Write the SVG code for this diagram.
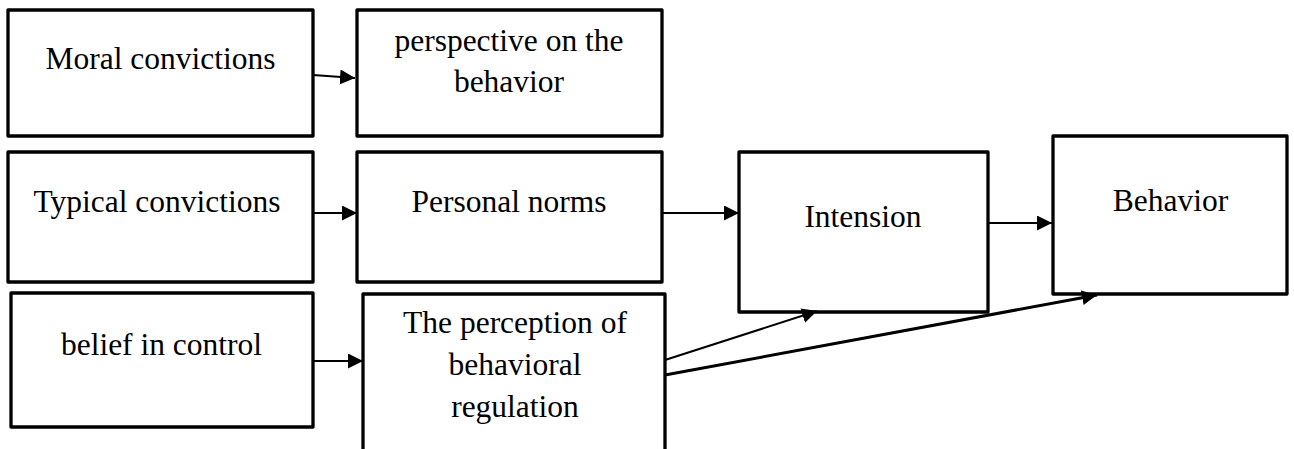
<svg xmlns="http://www.w3.org/2000/svg" width="1294" height="449" viewBox="0 0 1294 449">
<style>
.box{fill:#fff;stroke:#000;stroke-width:3.3;stroke-linejoin:round}
.t{font-family:"Liberation Serif","Times New Roman",serif;font-size:31.5px;fill:#000;text-anchor:middle}
.c{stroke:#000;stroke-width:2;fill:none}
.ct{stroke:#000;stroke-width:3;fill:none}
</style>
<defs>
<marker id="ah" markerUnits="userSpaceOnUse" markerWidth="17" markerHeight="16" refX="15" refY="7.5" orient="auto" viewBox="0 0 17 16">
<path d="M0,0 L15,7.5 L0,15 z" fill="#000"/>
</marker>
</defs>
<rect width="1294" height="449" fill="#fff"/>
<g id="n1"><rect class="box" x="8" y="10" width="305" height="126"/><text class="t" x="160.5" y="69">Moral convictions</text></g>
<g id="n2"><rect class="box" x="357" y="10" width="305" height="126"/><text class="t" x="509" y="51">perspective on the</text><text class="t" x="509" y="92">behavior</text></g>
<g id="n3"><rect class="box" x="8" y="152" width="305" height="130"/><text class="t" x="157" y="212">Typical convictions</text></g>
<g id="n4"><rect class="box" x="357" y="152" width="305" height="130"/><text class="t" x="509" y="212">Personal norms</text></g>
<g id="n5"><rect class="box" x="739" y="152" width="249" height="160"/><text class="t" x="863" y="227">Intension</text></g>
<g id="n6"><rect class="box" x="1053" y="136" width="234" height="158"/><text class="t" x="1170.5" y="211">Behavior</text></g>
<g id="n7"><rect class="box" x="11" y="293" width="302" height="134"/><text class="t" x="161.5" y="355">belief in control</text></g>
<g id="n8"><rect class="box" x="363" y="294" width="302" height="160"/><text class="t" x="515" y="333">The perception of</text><text class="t" x="515" y="375">behavioral</text><text class="t" x="515" y="417">regulation</text></g>
<g id="connectors">
<line class="c" x1="313" y1="75" x2="355" y2="78" marker-end="url(#ah)"/>
<line class="c" x1="313" y1="213" x2="357" y2="213" marker-end="url(#ah)"/>
<line class="c" x1="662" y1="213" x2="739" y2="213" marker-end="url(#ah)"/>
<line class="c" x1="988" y1="223" x2="1052" y2="223" marker-end="url(#ah)"/>
<line class="c" x1="313" y1="361" x2="363" y2="361" marker-end="url(#ah)"/>
<line class="c" x1="665" y1="360" x2="817" y2="311" marker-end="url(#ah)"/>
<line class="ct" x1="665" y1="375" x2="1097" y2="295" marker-end="url(#ah)"/>
</g>
</svg>
